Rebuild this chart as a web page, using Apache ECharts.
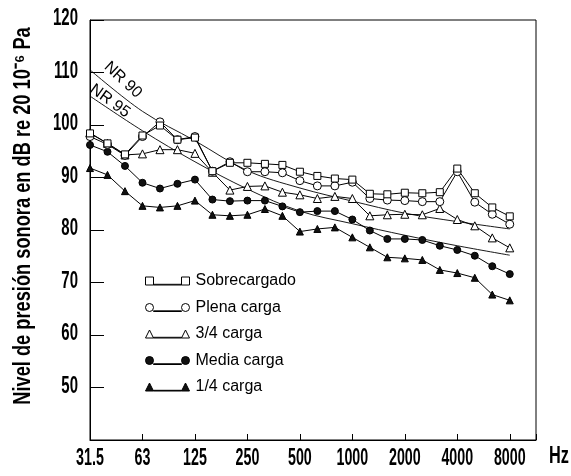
<!DOCTYPE html>
<html>
<head>
<meta charset="utf-8">
<script src="https://cdn.jsdelivr.net/npm/echarts@6/dist/echarts.min.js"></script>
<style>
  html, body { margin: 0; padding: 0; background: #fff; }
  #chart { width: 571px; height: 476px; }
</style>
</head>
<body>
<div id="chart"></div>
<script>
// 1/3-octave band centre frequencies (Hz)
const bands = [31.5, 40, 50, 63, 80, 100, 125, 160, 200, 250, 315, 400, 500,
               630, 800, 1000, 1250, 1600, 2000, 2500, 3150, 4000, 5000, 6300, 8000];
// octave tick labels
const octaveLabels = ['31.5', '63', '125', '250', '500', '1000', '2000', '4000', '8000'];
const yTickValues = [50, 60, 70, 80, 90, 100, 110, 120];

// sound pressure level per band, dB re 20 µPa
const sobrecargado = [98.4, 96.5, 94.4, 98.0, 99.9, 97.2, 97.6, 91.2, 92.8, 92.8, 92.6, 92.4, 91.1,
                      90.3, 89.8, 89.6, 86.9, 86.8, 87.1, 87.0, 87.2, 91.7, 87.0, 84.3, 82.6];
const plenaCarga   = [97.8, 96.3, 94.2, 97.8, 100.6, 97.2, 97.8, 91.2, 93.0, 91.1, 91.1, 90.9, 89.4,
                      88.4, 88.4, 89.1, 86.0, 85.7, 85.6, 85.4, 85.4, 91.1, 85.3, 83.0, 81.1];
const tresCuartos  = [98.5, 96.5, 94.3, 94.5, 95.3, 95.3, 94.6, 91.0, 87.6, 88.3, 88.4, 87.2, 86.7,
                      86.0, 86.4, 86.0, 82.7, 82.9, 83.0, 82.9, 84.1, 82.0, 80.8, 78.5, 76.6];
const mediaCarga   = [96.2, 94.9, 92.2, 89.0, 87.9, 88.8, 89.6, 85.8, 85.5, 85.6, 85.6, 84.5, 83.4,
                      83.6, 83.6, 82.0, 79.9, 78.3, 78.3, 78.1, 77.0, 76.2, 75.1, 73.1, 71.6];
const unCuarto     = [91.8, 90.5, 87.4, 84.6, 84.3, 84.6, 85.6, 82.9, 82.7, 82.9, 84.0, 82.7, 79.7,
                      80.2, 80.5, 78.6, 76.7, 74.8, 74.6, 74.3, 72.4, 71.8, 70.9, 67.7, 66.6];

// noise rating curves at octave bands 31.5 ... 8000 Hz
const nr90 = [110.5, 102.6, 97.0, 91.3, 88.0, 85.5, 83.2, 81.6, 80.2];
const nr95 = [105.5, 98.9, 93.0, 87.8, 83.6, 81.2, 79.0, 77.0, 75.2];

const sans = "'Liberation Sans', Arial, sans-serif";
const boldFont = size => 'bold ' + size + 'px ' + sans;

// band index -> position in octaves above 31.5 Hz
const bandPos = i => i / 3;
const bandSeries = vals => vals.map((v, i) => [bandPos(i), v]);
const octaveSeries = vals => vals.map((v, i) => [i, v]);

const openStyle = { color: '#fff', borderColor: '#000', borderWidth: 1 };
const fillStyle = { color: '#111', borderColor: '#000', borderWidth: 1 };
const lineStyle = { color: '#000', width: 1 };

// legend glyphs: marker, connecting line, marker
const P = {
  rect: 'path://M0,0H8V8H0ZM8,7.3H36V8H8ZM36,0H44V8H36Z',
  circle: 'path://M0,4A4,4 0 1,0 8,4A4,4 0 1,0 0,4ZM8,7.3H36V8H8ZM36,4A4,4 0 1,0 44,4A4,4 0 1,0 36,4Z',
  tri: 'path://M4,0L8,8H0ZM8,7.3H36V8H8ZM40,0L44,8H36Z'
};

function markSeries(name, vals, symbol, size, style) {
  return {
    name, type: 'line', data: bandSeries(vals),
    symbol, symbolSize: size, showAllSymbol: true,
    itemStyle: style, lineStyle: lineStyle, z: 3
  };
}
function nrSeries(name, vals) {
  return {
    name, type: 'line', data: octaveSeries(vals), smooth: 0.35,
    symbol: 'none', lineStyle: { color: '#000', width: 0.9 }, z: 2, silent: true
  };
}

const chart = echarts.init(document.getElementById('chart'), null, { renderer: 'canvas' });
chart.setOption({
  animation: false,
  backgroundColor: '#fff',
  grid: { left: 90, top: 20, right: 35, bottom: 36, show: true, borderColor: '#000', borderWidth: 1 },
  xAxis: {
    type: 'value', min: 0, max: 8.5, interval: 1,
    axisLine: { lineStyle: { color: '#000', width: 1 } },
    axisTick: { inside: true, length: 6, lineStyle: { color: '#000' } },
    splitLine: { show: false },
    axisLabel: { show: false }
  },
  yAxis: {
    type: 'value', min: 40, max: 120, interval: 10,
    axisLine: { show: true, lineStyle: { color: '#000', width: 1 } },
    axisTick: { inside: true, length: 14, lineStyle: { color: '#000' } },
    splitLine: { show: false },
    axisLabel: { show: false }
  },
  legend: {
    orient: 'vertical', left: 140, top: 268, itemWidth: 44, itemHeight: 8, itemGap: 10.5,
    textStyle: { fontFamily: sans, fontSize: 16, color: '#000', lineHeight: 16, padding: [0, 0, 0, 1] },
    selectedMode: false,
    data: [
      { name: 'Sobrecargado', icon: P.rect, itemStyle: openStyle },
      { name: 'Plena carga', icon: P.circle, itemStyle: openStyle },
      { name: '3/4 carga', icon: P.tri, itemStyle: openStyle },
      { name: 'Media carga', icon: P.circle, itemStyle: fillStyle },
      { name: '1/4 carga', icon: P.tri, itemStyle: fillStyle }
    ]
  },
  series: [
    nrSeries('NR 90', nr90),
    nrSeries('NR 95', nr95),
    markSeries('1/4 carga', unCuarto, 'triangle', 7, fillStyle),
    markSeries('Media carga', mediaCarga, 'circle', 7, fillStyle),
    markSeries('3/4 carga', tresCuartos, 'triangle', 8, openStyle),
    markSeries('Plena carga', plenaCarga, 'circle', 8, openStyle),
    markSeries('Sobrecargado', sobrecargado, 'rect', 7, openStyle)
  ]
});

// Tick labels and titles use a horizontally compressed bold face
// (condensed look); their positions come from the axes via convertToPixel.
const toPx = (x, y) => chart.convertToPixel({ gridIndex: 0 }, [x, y]);
const graphics = [];
const [x0, yBase] = toPx(0, 40);
octaveLabels.forEach((t, i) => {
  const [px] = toPx(i, 40);
  graphics.push({
    type: 'text', x: px, y: yBase + 19, scaleX: 0.62,
    style: { text: t, fill: '#000', font: boldFont(23), align: 'center', verticalAlign: 'middle' }
  });
});
yTickValues.forEach(v => {
  const [, py] = toPx(0, v);
  graphics.push({
    type: 'text', x: x0 - 12, y: py - 1, scaleX: 0.65,
    style: { text: String(v), fill: '#000', font: boldFont(23), align: 'right', verticalAlign: 'middle' }
  });
});
const [xEnd] = toPx(8.5, 40);
graphics.push({
  type: 'text', x: xEnd + 13, y: yBase + 16, scaleX: 0.68,
  style: { text: 'Hz', fill: '#000', font: boldFont(24), align: 'left', verticalAlign: 'middle' }
});
graphics.push({
  type: 'text', x: 23, y: 216, rotation: Math.PI / 2, scaleX: 0.76,
  style: { text: 'Nivel de presión sonora en dB re 20 10⁻⁶ Pa', fill: '#000',
           font: boldFont(24), align: 'center', verticalAlign: 'middle' }
});
graphics.push({
  type: 'text', x: 123, y: 80, rotation: -43 * Math.PI / 180,
  style: { text: 'NR 90', fill: '#000', font: '16px ' + sans, align: 'center', verticalAlign: 'middle' }
});
graphics.push({
  type: 'text', x: 110, y: 101, rotation: -36 * Math.PI / 180,
  style: { text: 'NR 95', fill: '#000', font: '16px ' + sans, align: 'center', verticalAlign: 'middle' }
});
chart.setOption({ graphic: graphics });
</script>
</body>
</html>
